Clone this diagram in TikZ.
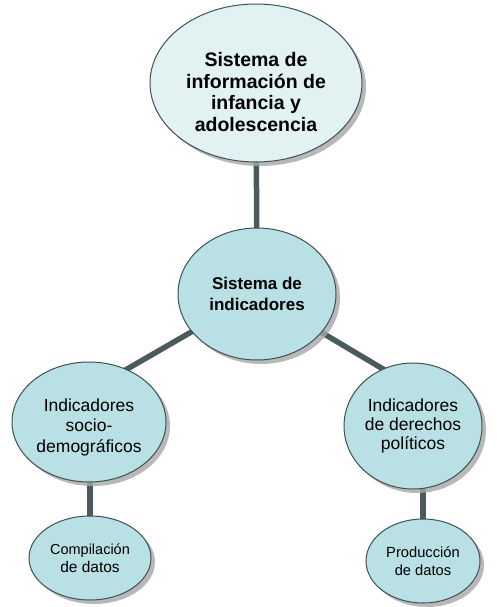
\documentclass[tikz,border=0pt]{standalone}
\usepackage{fontspec}
\setmainfont{Liberation Sans}
\usetikzlibrary{shapes.geometric,shadows}
\definecolor{fillA}{HTML}{E2F2F3}
\definecolor{fillB}{HTML}{B9E0E4}
\definecolor{edgeC}{HTML}{3E5254}
\definecolor{linkC}{HTML}{4B5B5D}
\tikzset{
  bub/.style={ellipse, draw=edgeC, line width=1pt, fill=fillB, align=center, inner sep=0pt,
    drop shadow={shadow xshift=4pt, shadow yshift=-4pt, fill=black!35, opacity=0.8}},
  link/.style={draw=linkC, line width=5.5pt},
  txt/.style={align=center, inner sep=0pt}
}
\begin{document}
\begin{tikzpicture}[x=1pt,y=-1pt]
\useasboundingbox (0,0) rectangle (496,607);
% node positions
\coordinate (pA) at (256,83);
\coordinate (pB) at (257,294);
\coordinate (pC) at (89,422);
\coordinate (pD) at (413,426);
\coordinate (pE) at (90,558);
\coordinate (pF) at (423,561);
% connector ends inside the lower ellipses
\coordinate (cIn) at (122,372);
\coordinate (dIn) at (388,372);
% connectors (behind)
\draw[link] (pA) -- (pB);
\draw[link] (pB) -- (cIn);
\draw[link] (pB) -- (dIn);
\draw[link] (pE) -- (pE |- pC);
\draw[link] (pF) -- (pF |- pD);
% nodes
\node[bub, fill=fillA, minimum width=212pt, minimum height=158pt] (a) at (pA) {};
\node[txt, font=\fontsize{19.5}{21.5}\selectfont\bfseries] (at) at (256,92) {Sistema de\\información de\\infancia y\\adolescencia};
\node[bub, minimum width=158pt, minimum height=132pt, font=\fontsize{17}{20.5}\selectfont\bfseries] (b) at (pB) {Sistema de\\indicadores};
\node[bub, minimum width=154pt, minimum height=120pt] (c) at (pC) {};
\node[txt, font=\fontsize{17.5}{20.5}\selectfont] (ct) at (89,427) {Indicadores\\socio-\\demográficos};
\node[bub, minimum width=138pt, minimum height=126pt, font=\fontsize{17.5}{19}\selectfont] (d) at (pD) {Indicadores\\de derechos\\políticos};
\node[bub, minimum width=122pt, minimum height=84pt, font=\fontsize{14.5}{18.5}\selectfont] (e) at (pE) {Compilación\\{\fontsize{15.5}{18.5}\selectfont de datos}};
\node[bub, minimum width=114pt, minimum height=84pt, font=\fontsize{14.7}{18.5}\selectfont] (f) at (pF) {Producción\\de datos};
\end{tikzpicture}
\end{document}
